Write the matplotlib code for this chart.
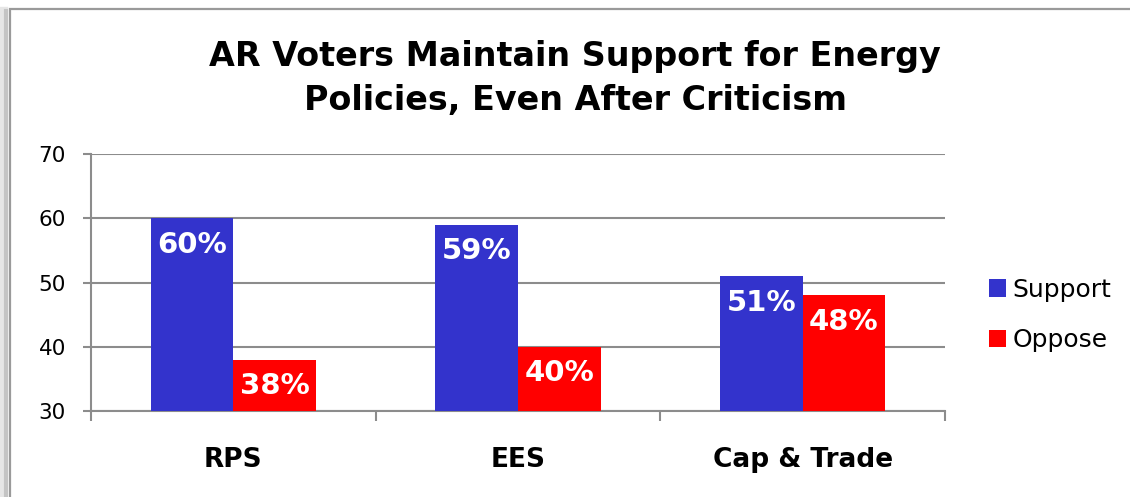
import matplotlib
matplotlib.use("Agg")
import matplotlib.pyplot as plt
from matplotlib.patches import Rectangle
from matplotlib.lines import Line2D
import numpy as np

categories = ["RPS", "EES", "Cap & Trade"]
support = [60, 59, 51]
oppose = [38, 40, 48]
series_names = ["Support", "Oppose"]
yticks = [30, 40, 50, 60, 70]

blue = "#3333CC"
red = "#FF0000"
grid_gray = "#8c8c8c"

plt.rcParams["font.family"] = ["DejaVu Sans"]

fig = plt.figure(figsize=(11.3, 4.97), dpi=100)

# soft shadow down the left edge, then the frame itself
for off, lw, c in ((0.0035, 6, "#e6e6e6"), (0.0055, 3, "#c4c4c4")):
    fig.add_artist(Line2D([off, off], [-0.1, 0.978], transform=fig.transFigure,
                          color=c, linewidth=lw, zorder=0))
fig.add_artist(Rectangle((0.009, -0.1), 1.2, 1.082, transform=fig.transFigure,
                         fill=False, edgecolor="#9a9a9a", linewidth=1.6, zorder=1))

ax = fig.add_axes([0.0805, 0.173, 0.7558, 0.517])

x = np.arange(len(categories))
w = 0.29
b1 = ax.bar(x - w / 2, support, w, color=blue, label=series_names[0], zorder=3)
b2 = ax.bar(x + w / 2, oppose, w, color=red, label=series_names[1], zorder=3)

for bars, vals in ((b1, support), (b2, oppose)):
    for rect, v in zip(bars, vals):
        ax.annotate(f"{v}%", (rect.get_x() + rect.get_width() / 2, v),
                    xytext=(0, -9), textcoords="offset points",
                    ha="center", va="top", color="white",
                    fontsize=21, fontweight="bold", zorder=4)

ax.set_ylim(30, 70)
ax.set_xlim(-0.5, 2.5)
ax.set_yticks(yticks)
ax.yaxis.grid(True, color=grid_gray, linewidth=1.5, zorder=0)
ax.set_axisbelow(True)

for side in ("top", "right"):
    ax.spines[side].set_visible(False)
for side in ("left", "bottom"):
    ax.spines[side].set_color(grid_gray)
    ax.spines[side].set_linewidth(1.5)

ax.tick_params(axis="y", length=6, width=1.5, color=grid_gray, labelsize=15.5, pad=12)
ax.set_xticks(x)
ax.set_xticklabels(categories, fontsize=19, fontweight="bold")
ax.tick_params(axis="x", length=0, pad=26)
ax.set_xticks([-0.5, 0.5, 1.5, 2.5], minor=True)
ax.tick_params(axis="x", which="minor", length=7, width=1.5, color=grid_gray)

fig.text(0.509, 0.842, "AR Voters Maintain Support for Energy\nPolicies, Even After Criticism",
         ha="center", va="center", fontsize=24, fontweight="bold", linespacing=1.4)

fig.legend(handles=[b1, b2], labels=series_names, loc="center left",
           bbox_to_anchor=(0.855, 0.366), frameon=False, fontsize=18,
           handlelength=0.7, handleheight=0.7, handletextpad=0.25, labelspacing=1.05)

fig.savefig("out.png", dpi=100)
